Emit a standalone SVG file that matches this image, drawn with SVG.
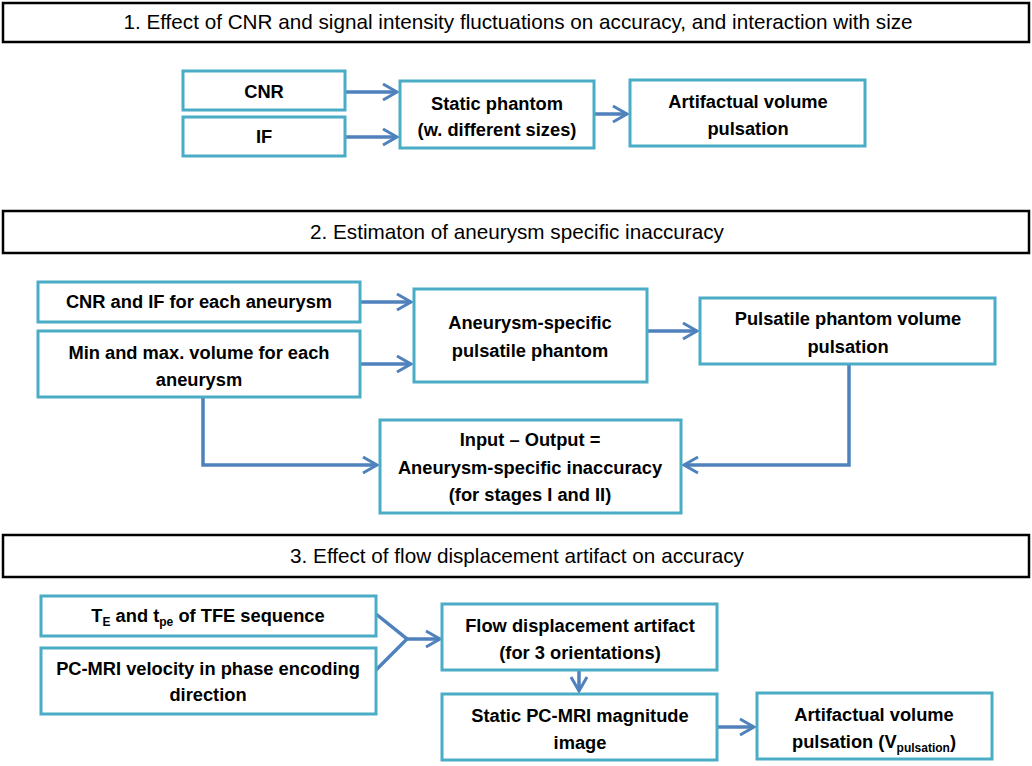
<svg xmlns="http://www.w3.org/2000/svg" width="1032" height="766" viewBox="0 0 1032 766">
<defs>
<marker id="ah" markerWidth="20" markerHeight="20" viewBox="-16 -10 20 20" refX="0" refY="0" orient="auto" markerUnits="userSpaceOnUse">
<path d="M-14,-8 L0,0 L-14,8" fill="none" stroke="#4F81BD" stroke-width="3"/>
</marker>
</defs>
<style>
.hdr{fill:#fff;stroke:#000;stroke-width:2.5}
.ht{font-family:"Liberation Sans",Arial,sans-serif;font-size:20.7px;fill:#000;text-anchor:middle}
.box{fill:#fff;stroke:#4BACC6;stroke-width:3}
.t{font-family:"Liberation Sans",Arial,sans-serif;font-size:18.3px;font-weight:bold;fill:#000;text-anchor:middle}
.c{fill:none;stroke:#4F81BD;stroke-width:3.5}
.sub{font-size:12px}
</style>
<rect width="1032" height="766" fill="#fff"/>

<g id="header1"><rect class="hdr" x="3" y="3" width="1026" height="39"/><text class="ht" x="518" y="29">1. Effect of CNR and signal intensity fluctuations on accuracy, and interaction with size</text></g>
<g id="header2"><rect class="hdr" x="3" y="211" width="1026" height="42"/><text class="ht" x="517" y="239">2. Estimaton of aneurysm specific inaccuracy</text></g>
<g id="header3"><rect class="hdr" x="3" y="535" width="1026" height="42"/><text class="ht" x="517" y="563">3. Effect of flow displacement artifact on accuracy</text></g>

<g id="connectors">
<line class="c" x1="345" y1="92" x2="397" y2="92" marker-end="url(#ah)"/>
<line class="c" x1="345" y1="137" x2="397" y2="137" marker-end="url(#ah)"/>
<line class="c" x1="594" y1="114" x2="627" y2="114" marker-end="url(#ah)"/>
<line class="c" x1="360" y1="302" x2="411" y2="302" marker-end="url(#ah)"/>
<line class="c" x1="360" y1="364" x2="411" y2="364" marker-end="url(#ah)"/>
<line class="c" x1="647" y1="331" x2="697" y2="331" marker-end="url(#ah)"/>
<polyline class="c" points="203,397 203,465 377,465" marker-end="url(#ah)"/>
<polyline class="c" points="849,364 849,465 684,465" marker-end="url(#ah)"/>
<polyline class="c" points="376,614 407,639 376,670"/>
<line class="c" x1="407" y1="639" x2="440" y2="639" marker-end="url(#ah)"/>
<line class="c" x1="579" y1="670" x2="579" y2="691" marker-end="url(#ah)"/>
<line class="c" x1="717" y1="727" x2="754" y2="727" marker-end="url(#ah)"/>
</g>

<g id="n-cnr"><rect class="box" x="183" y="71" width="162" height="39"/><text class="t" x="264" y="98">CNR</text></g>
<g id="n-if"><rect class="box" x="183" y="117" width="162" height="39"/><text class="t" x="264" y="143">IF</text></g>
<g id="n-static"><rect class="box" x="400" y="81" width="194" height="67"/><text class="t" x="497" y="110">Static phantom</text><text class="t" x="497" y="136">(w. different sizes)</text></g>
<g id="n-art1"><rect class="box" x="630" y="80" width="235" height="66"/><text class="t" x="748" y="108">Artifactual volume</text><text class="t" x="748" y="135">pulsation</text></g>

<g id="n-cnrif"><rect class="box" x="38" y="282" width="322" height="40"/><text class="t" x="199" y="308">CNR and IF for each aneurysm</text></g>
<g id="n-minmax"><rect class="box" x="38" y="331" width="322" height="66"/><text class="t" x="199" y="359">Min and max. volume for each</text><text class="t" x="199" y="386">aneurysm</text></g>
<g id="n-aphantom"><rect class="box" x="414" y="289" width="233" height="93"/><text class="t" x="530" y="329">Aneurysm-specific</text><text class="t" x="530" y="357">pulsatile phantom</text></g>
<g id="n-pulsatile"><rect class="box" x="700" y="298" width="295" height="66"/><text class="t" x="848" y="325">Pulsatile phantom volume</text><text class="t" x="848" y="353">pulsation</text></g>
<g id="n-inout"><rect class="box" x="380" y="420" width="301" height="93"/><text class="t" x="530" y="446">Input – Output =</text><text class="t" x="530" y="474">Aneurysm-specific inaccuracy</text><text class="t" x="530" y="501">(for stages I and II)</text></g>

<g id="n-te"><rect class="box" x="41" y="596" width="335" height="40"/><text class="t" x="208" y="622">T<tspan class="sub" dy="4">E</tspan><tspan dy="-4"> and t</tspan><tspan class="sub" dy="4">pe</tspan><tspan dy="-4"> of TFE sequence</tspan></text></g>
<g id="n-pcmri"><rect class="box" x="41" y="648" width="335" height="66"/><text class="t" x="208" y="675">PC-MRI velocity in phase encoding</text><text class="t" x="208" y="701">direction</text></g>
<g id="n-flow"><rect class="box" x="442" y="604" width="275" height="66"/><text class="t" x="580" y="632">Flow displacement artifact</text><text class="t" x="580" y="659">(for 3 orientations)</text></g>
<g id="n-mag"><rect class="box" x="442" y="694" width="275" height="66"/><text class="t" x="580" y="722">Static PC-MRI magnitude</text><text class="t" x="580" y="749">image</text></g>
<g id="n-art3"><rect class="box" x="757" y="693" width="235" height="66"/><text class="t" x="874" y="721">Artifactual volume</text><text class="t" x="874" y="748">pulsation (V<tspan class="sub" dy="4">pulsation</tspan><tspan dy="-4">)</tspan></text></g>
</svg>
